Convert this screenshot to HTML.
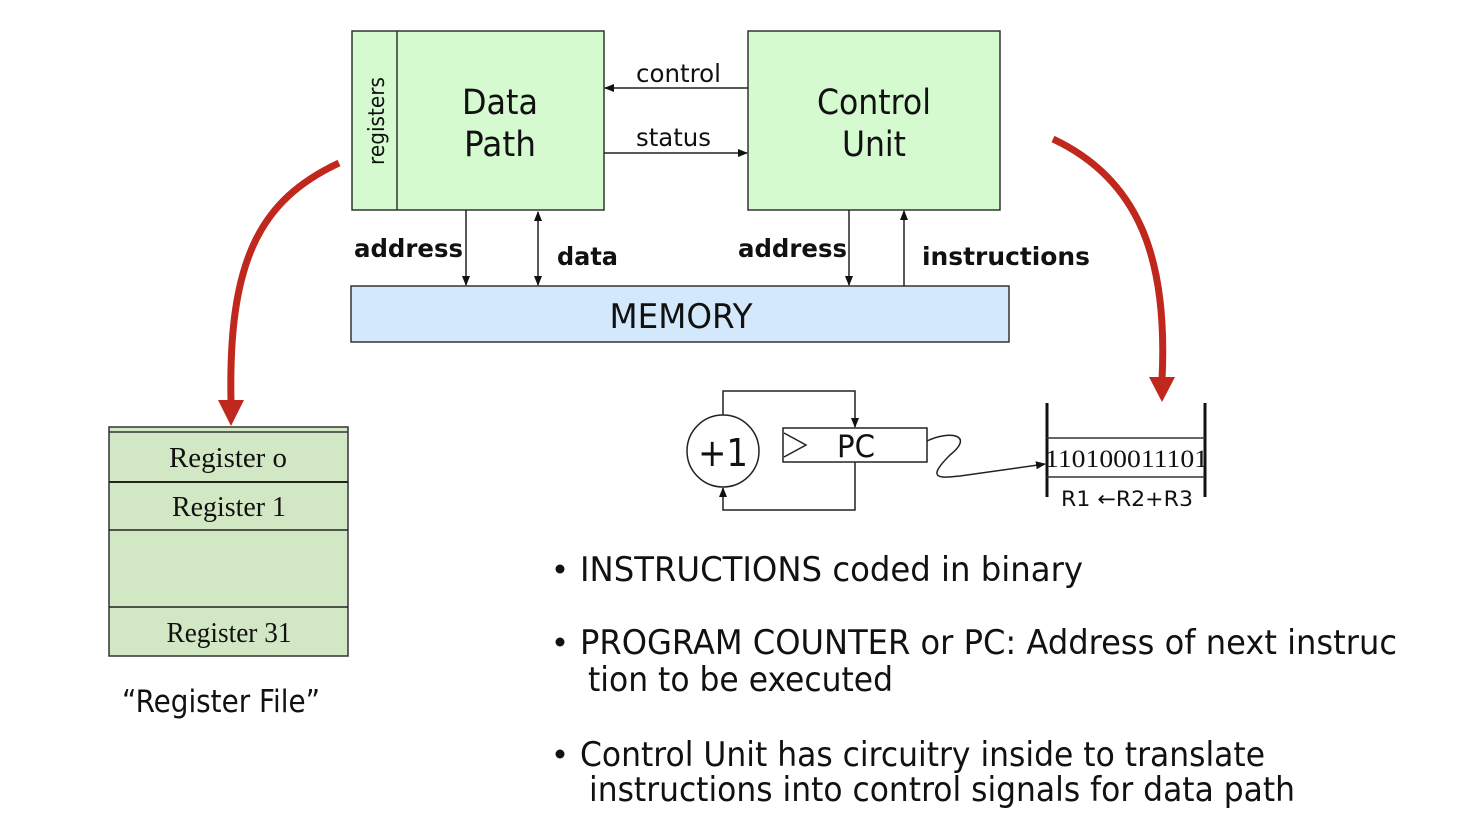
<!DOCTYPE html>
<html><head><meta charset="utf-8"><style>
html,body{margin:0;padding:0;background:#fff;}
svg{display:block;}
text{font-family:"DejaVu Sans","Liberation Sans",sans-serif;fill:#111;}
.s{font-family:"Liberation Serif",serif;}
</style></head><body>
<svg width="1480" height="826" viewBox="0 0 1480 826" xmlns="http://www.w3.org/2000/svg">
<defs>
<marker id="a" markerWidth="10" markerHeight="10" refX="9" refY="5" orient="auto" markerUnits="userSpaceOnUse"><path d="M0,1 L10,5 L0,9 Z" fill="#111"/></marker>
<marker id="as" markerWidth="10" markerHeight="10" refX="1" refY="5" orient="auto" markerUnits="userSpaceOnUse"><path d="M10,1 L0,5 L10,9 Z" fill="#111"/></marker>
</defs>
<rect x="352" y="31" width="252" height="179" fill="#d5fad0" stroke="#333" stroke-width="1.5"/>
<line x1="397" y1="31" x2="397" y2="210" stroke="#333" stroke-width="1.5"/>
<text transform="translate(384,121) rotate(-90)" font-size="22" text-anchor="middle" textLength="88" lengthAdjust="spacingAndGlyphs">registers</text>
<text x="500" y="114" font-size="35" text-anchor="middle" textLength="76" lengthAdjust="spacingAndGlyphs">Data</text>
<text x="500" y="156" font-size="35" text-anchor="middle" textLength="72" lengthAdjust="spacingAndGlyphs">Path</text>
<rect x="748" y="31" width="252" height="179" fill="#d5fad0" stroke="#333" stroke-width="1.5"/>
<text x="874" y="114" font-size="35" text-anchor="middle" textLength="114" lengthAdjust="spacingAndGlyphs">Control</text>
<text x="874" y="156" font-size="35" text-anchor="middle" textLength="64" lengthAdjust="spacingAndGlyphs">Unit</text>
<line x1="748" y1="88" x2="605" y2="88" stroke="#222" stroke-width="1.5" marker-end="url(#a)"/>
<text x="636" y="82" font-size="25" textLength="85" lengthAdjust="spacingAndGlyphs">control</text>
<line x1="604" y1="153" x2="747" y2="153" stroke="#222" stroke-width="1.5" marker-end="url(#a)"/>
<text x="636" y="146" font-size="25" textLength="75" lengthAdjust="spacingAndGlyphs">status</text>
<rect x="351" y="286" width="658" height="56" fill="#d4e8fb" stroke="#333" stroke-width="1.5"/>
<text x="681" y="328" font-size="34" text-anchor="middle" textLength="143" lengthAdjust="spacingAndGlyphs">MEMORY</text>
<line x1="466" y1="210" x2="466" y2="285" stroke="#222" stroke-width="1.5" marker-end="url(#a)"/>
<line x1="538" y1="212" x2="538" y2="285" stroke="#222" stroke-width="1.5" marker-start="url(#as)" marker-end="url(#a)"/>
<line x1="849" y1="210" x2="849" y2="285" stroke="#222" stroke-width="1.5" marker-end="url(#a)"/>
<line x1="904" y1="286" x2="904" y2="211" stroke="#222" stroke-width="1.5" marker-end="url(#a)"/>
<text x="354" y="257" font-size="25" font-weight="bold" textLength="109" lengthAdjust="spacingAndGlyphs">address</text>
<text x="557" y="265" font-size="25" font-weight="bold" textLength="61" lengthAdjust="spacingAndGlyphs">data</text>
<text x="738" y="257" font-size="25" font-weight="bold" textLength="109" lengthAdjust="spacingAndGlyphs">address</text>
<text x="922" y="265" font-size="25" font-weight="bold" textLength="168" lengthAdjust="spacingAndGlyphs">instructions</text>
<path d="M339,163 C260,200 228,260 231,402" fill="none" stroke="#c0281e" stroke-width="7"/>
<path d="M218,400 L244,400 L231,426 Z" fill="#c0281e"/>
<path d="M1053,139 C1140,180 1168,260 1162,380" fill="none" stroke="#c0281e" stroke-width="7"/>
<path d="M1149,377 L1175,377 L1162,402 Z" fill="#c0281e"/>
<rect x="109" y="427" width="239" height="229" fill="#d2e8c4" stroke="#333" stroke-width="1.5"/>
<line x1="109" y1="432" x2="348" y2="432" stroke="#333" stroke-width="1.5"/>
<line x1="109" y1="482" x2="348" y2="482" stroke="#222" stroke-width="2"/>
<line x1="109" y1="530" x2="348" y2="530" stroke="#222" stroke-width="1.5"/>
<line x1="109" y1="607" x2="348" y2="607" stroke="#222" stroke-width="1.5"/>
<text class="s" x="228" y="467" font-size="29" text-anchor="middle" textLength="118" lengthAdjust="spacingAndGlyphs">Register o</text>
<text class="s" x="229" y="516" font-size="29" text-anchor="middle" textLength="114" lengthAdjust="spacingAndGlyphs">Register 1</text>
<text class="s" x="229" y="642" font-size="29" text-anchor="middle" textLength="125" lengthAdjust="spacingAndGlyphs">Register 31</text>
<text x="221" y="712" font-size="31" text-anchor="middle" textLength="198" lengthAdjust="spacingAndGlyphs">“Register File”</text>
<circle cx="723" cy="451" r="36" fill="#fff" stroke="#222" stroke-width="1.5"/>
<text x="723" y="466" font-size="38" text-anchor="middle" textLength="50" lengthAdjust="spacingAndGlyphs">+1</text>
<rect x="783" y="428" width="144" height="34" fill="#fff" stroke="#222" stroke-width="1.5"/>
<path d="M784,433 L806,445 L784,457" fill="none" stroke="#222" stroke-width="1.5"/>
<text x="856" y="457" font-size="31" text-anchor="middle" textLength="38" lengthAdjust="spacingAndGlyphs">PC</text>
<path d="M723,415 L723,391 L855,391 L855,427" fill="none" stroke="#222" stroke-width="1.5" marker-end="url(#a)"/>
<path d="M855,462 L855,510 L723,510 L723,488" fill="none" stroke="#222" stroke-width="1.5" marker-end="url(#a)"/>
<path d="M927,441 C950,430 975,435 950,455 C925,480 940,478 960,476 L1045,464" fill="none" stroke="#222" stroke-width="1.5" marker-end="url(#a)"/>
<line x1="1047" y1="403" x2="1047" y2="497" stroke="#111" stroke-width="3"/>
<line x1="1205" y1="403" x2="1205" y2="497" stroke="#111" stroke-width="3"/>
<line x1="1047" y1="438" x2="1205" y2="438" stroke="#333" stroke-width="1.5"/>
<line x1="1047" y1="477" x2="1205" y2="477" stroke="#333" stroke-width="1.5"/>
<text class="s" x="1045" y="467" font-size="25" textLength="163" lengthAdjust="spacingAndGlyphs">110100011101</text>
<text x="1061" y="506" font-size="21" textLength="132" lengthAdjust="spacingAndGlyphs">R1 ←R2+R3</text>
<g font-size="34">
<circle cx="560" cy="569" r="4.5" fill="#111"/>
<text x="580" y="581" textLength="503" lengthAdjust="spacingAndGlyphs">INSTRUCTIONS coded in binary</text>
<circle cx="560" cy="642" r="4.5" fill="#111"/>
<text x="580" y="654" textLength="817" lengthAdjust="spacingAndGlyphs">PROGRAM COUNTER or PC: Address of next instruc</text>
<text x="588" y="691" textLength="305" lengthAdjust="spacingAndGlyphs">tion to be executed</text>
<circle cx="560" cy="754" r="4.5" fill="#111"/>
<text x="580" y="766" textLength="685" lengthAdjust="spacingAndGlyphs">Control Unit has circuitry inside to translate</text>
<text x="589" y="801" textLength="706" lengthAdjust="spacingAndGlyphs">instructions into control signals for data path</text>
</g>
</svg>
</body></html>
